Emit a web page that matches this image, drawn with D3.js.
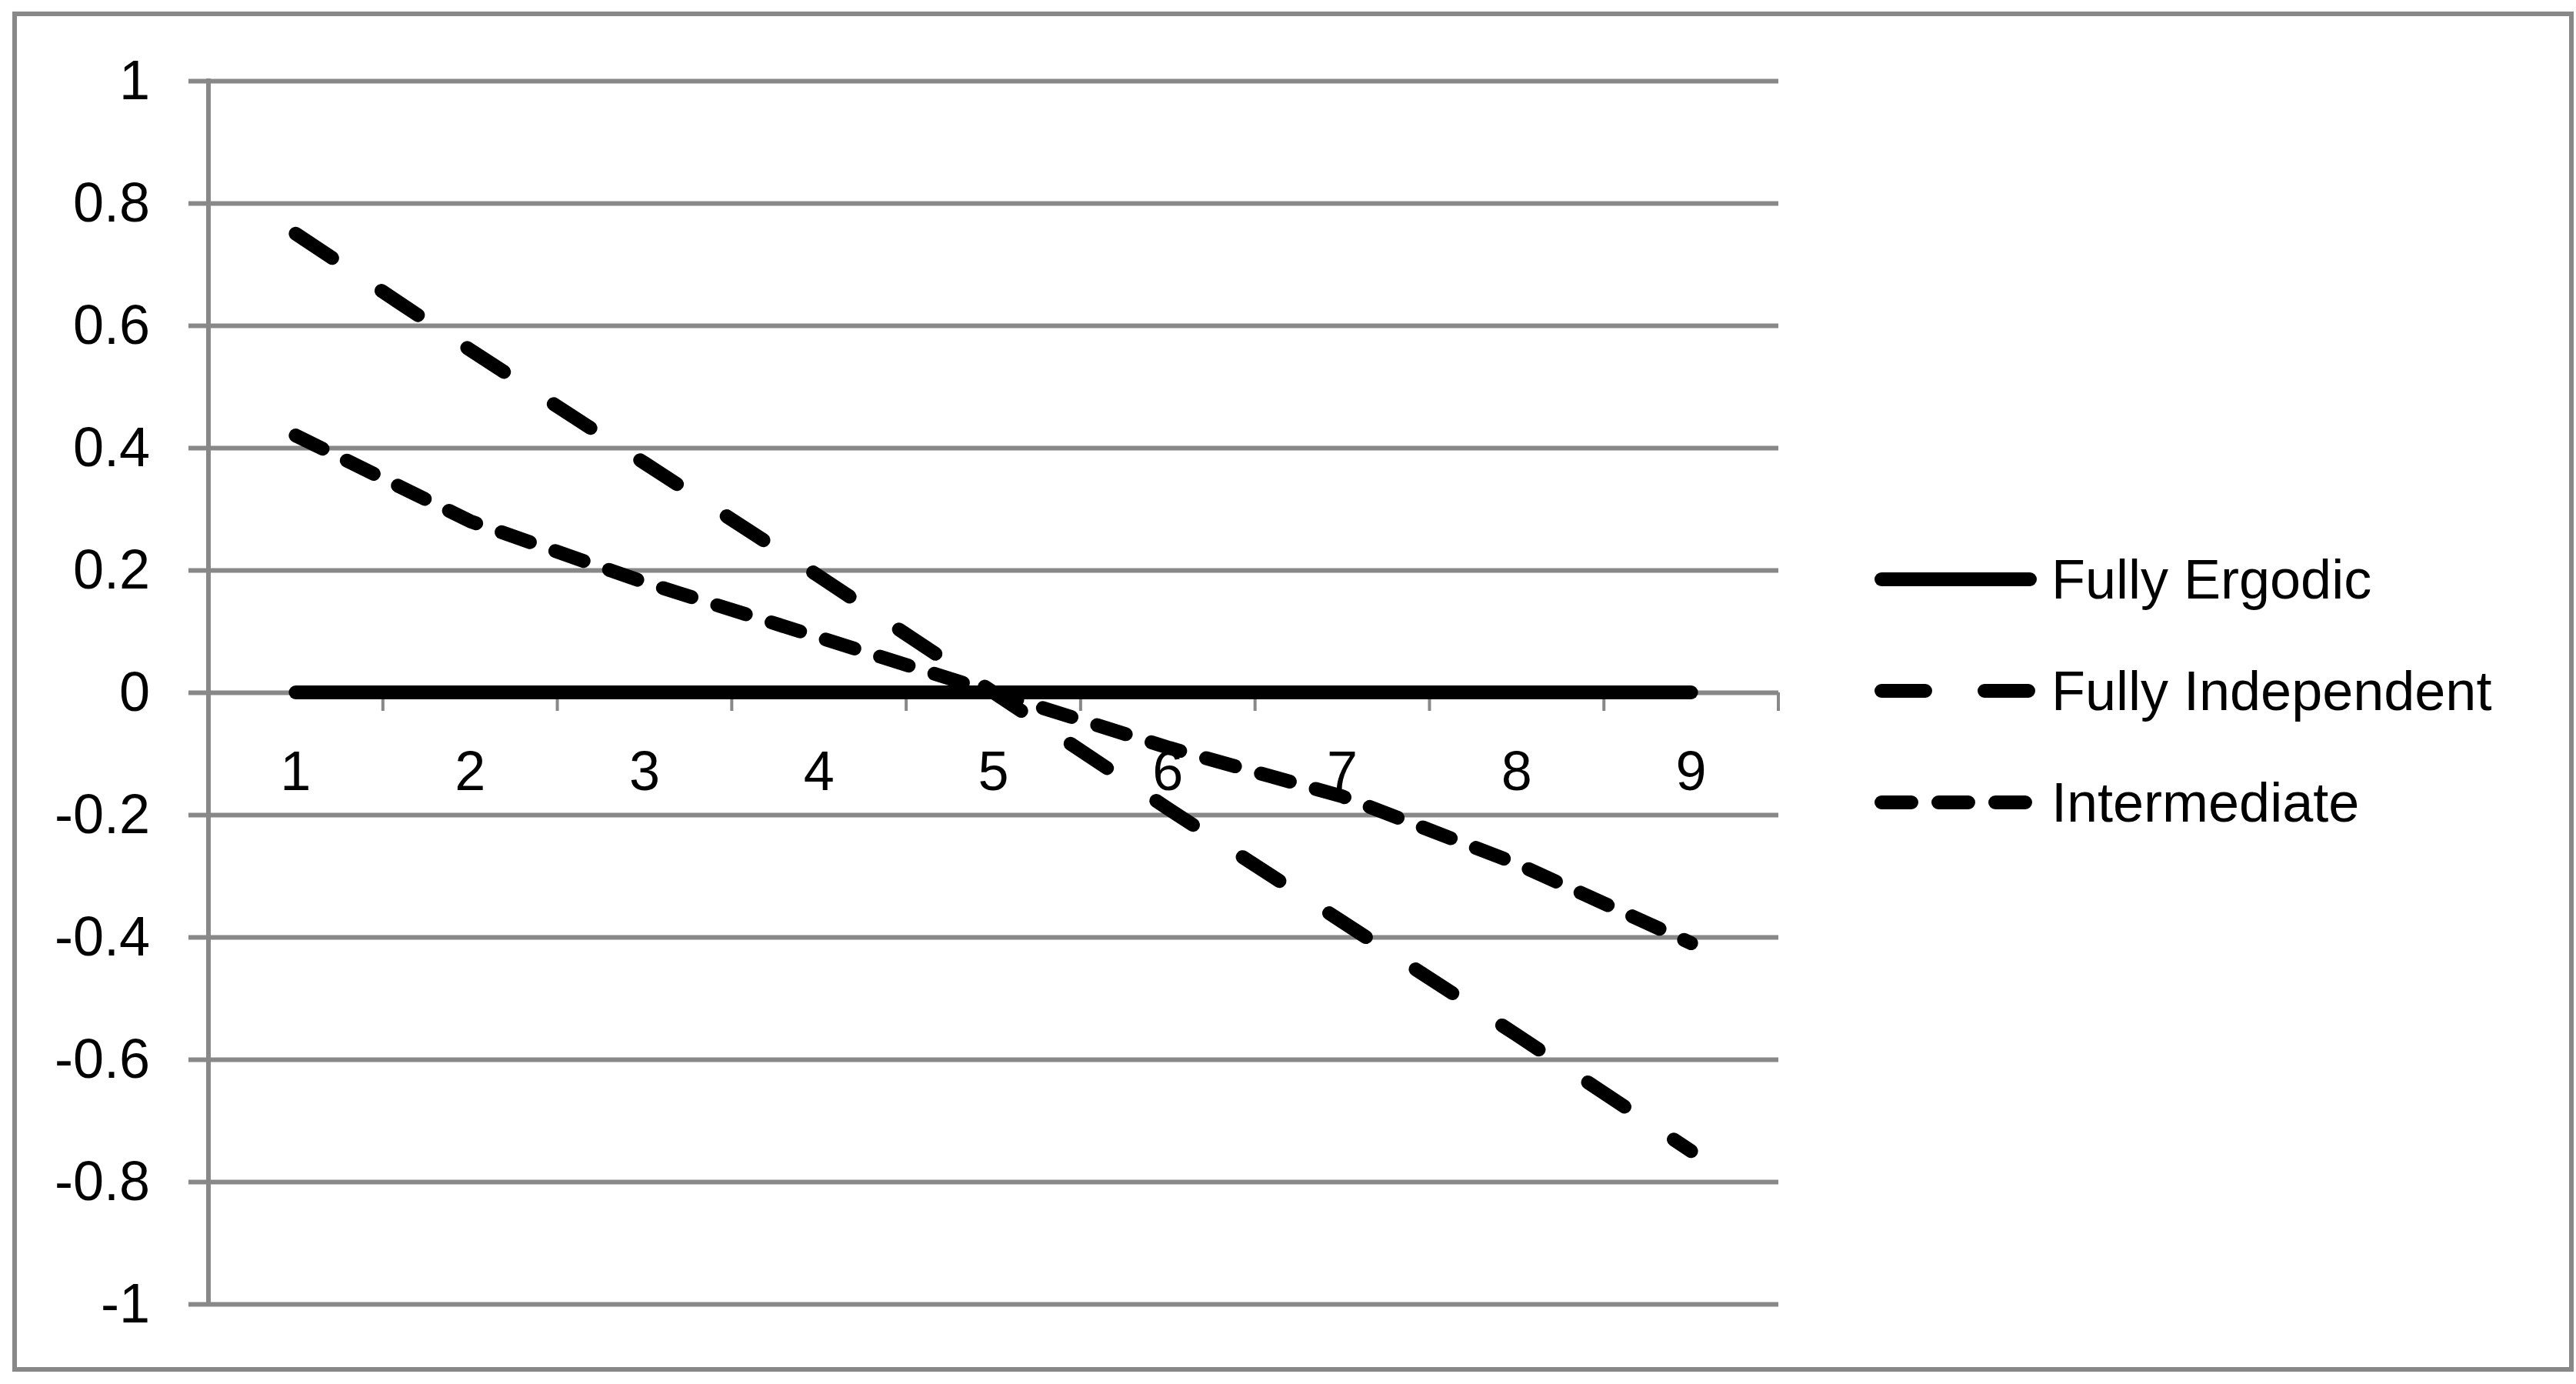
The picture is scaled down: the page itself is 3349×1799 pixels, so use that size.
<!DOCTYPE html>
<html>
<head>
<meta charset="utf-8">
<script src="https://cdn.jsdelivr.net/npm/d3@7"></script>
<style>
    html, body { margin: 0; padding: 0; background: #fff; }
    svg { display: block; }
    text { font-family: "Liberation Sans", Arial, sans-serif; fill: #000; }
</style>
</head>
<body>
<div id="chart"></div>
<script>
const categories = [1, 2, 3, 4, 5, 6, 7, 8, 9];
const fullyErgodic = [0, 0, 0, 0, 0, 0, 0, 0, 0];
const fullyIndependent = [0.75, 0.56, 0.375, 0.19, 0, -0.19, -0.375, -0.56, -0.75];
const intermediate = [0.42, 0.28, 0.18, 0.09, 0, -0.09, -0.17, -0.28, -0.41];
const seriesNames = ["Fully Ergodic", "Fully Independent", "Intermediate"];
const yTicks = [1, 0.8, 0.6, 0.4, 0.2, 0, -0.2, -0.4, -0.6, -0.8, -1];

const width = 3349,
    height = 1799;
const plot = { left: 271, right: 2312, top: 105, bottom: 1695 };
const gridColor = "#888888";
const lineWidth = 18;
const fontSize = 72;

const svg = d3.select("#chart").append("svg")
    .attr("width", width)
    .attr("height", height)
    .attr("viewBox", "0 0 " + width + " " + height);

// outer chart border
svg.append("rect")
    .attr("x", 19)
    .attr("y", 18)
    .attr("width", width - 19 - 6)
    .attr("height", 1780 - 18)
    .attr("fill", "none")
    .attr("stroke", gridColor)
    .attr("stroke-width", 6);

const x = d3.scaleBand()
    .domain(categories)
    .range([plot.left, plot.right])
    .padding(0);
const xc = d => x(d) + x.bandwidth() / 2;

const y = d3.scaleLinear()
    .domain([-1, 1])
    .range([plot.bottom, plot.top]);

// horizontal gridlines with their outside ticks
const yAxis = d3.axisLeft(y)
    .tickValues(yTicks)
    .tickSize(-(plot.right - plot.left))
    .tickPadding(76)
    .tickFormat(d => String(d));

const gy = svg.append("g")
    .attr("transform", `translate(${plot.left},0)`)
    .call(yAxis);
gy.select(".domain").remove();
gy.selectAll(".tick line")
    .attr("x1", -26)
    .attr("stroke", gridColor)
    .attr("stroke-width", 6);
gy.selectAll(".tick text")
    .attr("font-size", fontSize)
    .attr("font-family", "'Liberation Sans', Arial, sans-serif")
    .attr("fill", "#000")
    .attr("dy", "0.33em");

// vertical axis line
svg.append("line")
    .attr("x1", plot.left).attr("x2", plot.left)
    .attr("y1", plot.top - 3).attr("y2", plot.bottom + 3)
    .attr("stroke", gridColor)
    .attr("stroke-width", 6);

// horizontal category axis crossing at zero
const boundaries = categories.map(c => x(c) + x.bandwidth());
svg.append("g")
    .selectAll("line")
    .data(boundaries)
    .join("line")
    .attr("x1", d => d).attr("x2", d => d)
    .attr("y1", y(0)).attr("y2", y(0) + 24)
    .attr("stroke", gridColor)
    .attr("stroke-width", 4);

svg.append("g")
    .selectAll("text")
    .data(categories)
    .join("text")
    .attr("x", d => xc(d))
    .attr("y", y(0) + 127)
    .attr("text-anchor", "middle")
    .attr("font-size", fontSize)
    .text(d => d);

// series
const series = [
    { name: seriesNames[0], values: fullyErgodic, dash: null },
    { name: seriesNames[1], values: fullyIndependent, dash: "57,77" },
    { name: seriesNames[2], values: intermediate, dash: "39,35" }
];

const line = d3.line()
    .x((d, i) => xc(categories[i]))
    .y(d => y(d));

svg.append("g")
    .selectAll("path")
    .data(series)
    .join("path")
    .attr("d", d => line(d.values))
    .attr("fill", "none")
    .attr("stroke", "#000")
    .attr("stroke-width", lineWidth)
    .attr("stroke-linecap", "round")
    .attr("stroke-linejoin", "round")
    .attr("stroke-dasharray", d => d.dash);

// legend
const legend = svg.append("g")
    .attr("transform", "translate(2446,753)");

const item = legend.selectAll("g")
    .data(series)
    .join("g")
    .attr("transform", (d, i) => `translate(0,${i * 145})`);

item.append("line")
    .attr("x1", 0).attr("x2", 193)
    .attr("y1", 0).attr("y2", 0)
    .attr("stroke", "#000")
    .attr("stroke-width", lineWidth)
    .attr("stroke-linecap", "round")
    .attr("stroke-dasharray", d => d.dash);

item.append("text")
    .attr("x", 221)
    .attr("y", 25)
    .attr("font-size", fontSize)
    .text(d => d.name);
</script>
</body>
</html>
